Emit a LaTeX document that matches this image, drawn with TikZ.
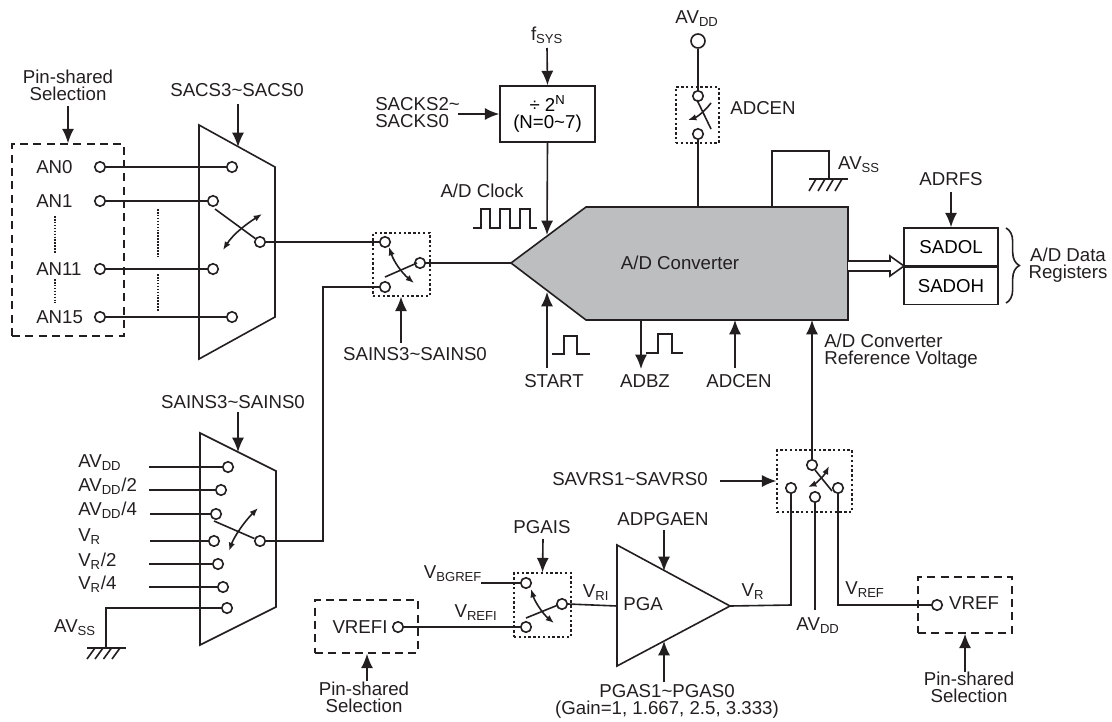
\documentclass[tikz,border=0pt]{standalone}
\usepackage{fontspec}
\setmainfont{Liberation Sans}
\usetikzlibrary{arrows.meta,decorations.pathreplacing}
\definecolor{adcGray}{HTML}{BDBEC0}
\definecolor{inkGray}{HTML}{231F20}
\newcommand{\lsub}[1]{\textsubscript{#1}}
\tikzset{
  font=\fontsize{14}{12.7}\selectfont,
  wire/.style={draw=inkGray, line width=1.2pt},
  arrow/.style={-{Latex[length=3.8mm,width=3.2mm]}, draw=inkGray, line width=1.2pt},
  swarrow/.style={{Latex[length=2.2mm,width=1.7mm]}-{Latex[length=2.2mm,width=1.7mm]}, draw=inkGray, line width=1.2pt},
  pin/.style={circle, draw=inkGray, line width=1.2pt, fill=white, minimum size=10.5*0.75pt, inner sep=0pt},
  bigpin/.style={pin, minimum size=14*0.75pt},
  sel/.style={rectangle, draw=inkGray, line width=1.2pt, dash pattern=on 6pt off 4pt},
  sw/.style={rectangle, draw=inkGray, line width=1pt, dash pattern=on 1.8pt off 1.8pt},
  regbox/.style={rectangle, draw=inkGray, line width=1.2pt, align=center, inner sep=0pt},
  lbl/.style={text=inkGray, align=center, inner sep=0pt},
  ground/.style={draw=inkGray, line width=1.2pt}
}

\begin{document}
\begin{tikzpicture}[x=0.75pt,y=-0.75pt]
\useasboundingbox (0,0) rectangle (1112,721);

% --------------------------------------------------------------------------
% AN input multiplexer
% --------------------------------------------------------------------------
\draw[wire] (199,125) -- (275,167) -- (275,317) -- (199,359) -- cycle;
\node[sel, minimum width=112*0.75pt, minimum height=192*0.75pt] (anBox) at (68,240) {};
\node[lbl] (anSel) at (68,85) {Pin-shared\\Selection};
\node[lbl] (sacs) at (237,90) {SACS3\textasciitilde SACS0};
\coordinate (anSelEnd) at (68,106);
\coordinate (sacsEnd) at (238,104);
\coordinate (sacsHit) at (238,147);
\draw[arrow] (anSelEnd) -- (anBox.north);
\draw[arrow] (sacsEnd) -- (sacsHit);

\node[lbl, anchor=west] at (36,167) (an0) {AN0};
\node[lbl, anchor=west] at (36,201) (an1) {AN1};
\node[lbl, anchor=west] at (36,269) (an11) {AN11};
\node[lbl, anchor=west] at (36,317) (an15) {AN15};
\node[pin] (inA) at (100,167) {};
\node[pin] (inB) at (100,201) {};
\node[pin] (inC) at (100,269) {};
\node[pin] (inD) at (100,317) {};
\node[pin] (muxA) at (232,167) {};
\node[pin] (muxB) at (213,201) {};
\node[pin] (muxC) at (213,269) {};
\node[pin] (muxD) at (232,317) {};
\node[pin] (muxOut) at (260,242) {};
\foreach \a/\b in {inA/muxA,inB/muxB,inC/muxC,inD/muxD}
  \draw[wire] (\a) -- (\b);
\draw[wire, densely dotted] (55,216) -- (55,253);
\draw[wire, densely dotted] (55,279) -- (55,303);
\draw[wire, densely dotted] (158,209) -- (158,257);
\draw[wire, densely dotted] (158,274) -- (158,312);
\draw[wire] (215,209) -- (muxOut);
\draw[swarrow] (223,250) .. controls (234,233) and (248,223) .. (262,214);

% --------------------------------------------------------------------------
% Input select switch
% --------------------------------------------------------------------------
\node[sw, minimum width=57*0.75pt, minimum height=63*0.75pt] (inSw) at (401.5,264.5) {};
\node[pin] (inSwA) at (385,242) {};
\node[pin] (inSwB) at (385,287) {};
\node[pin] (inSwOut) at (420,263) {};
\node[lbl] (sainsB) at (415,354) {SAINS3\textasciitilde SAINS0};
\coordinate (sainsBEnd) at (401,343);
\draw[arrow] (sainsBEnd) -- (inSw.south -| sainsBEnd);
\draw[wire] (muxOut) -- (inSwA);
\draw[wire] (385,277) -- (417,263);
\draw[swarrow] (389,247) .. controls (394,262) and (402,273) .. (414,283);

% --------------------------------------------------------------------------
% A/D converter
% --------------------------------------------------------------------------
\draw[wire, fill=adcGray] (511,263) -- (586,207) -- (848,207) -- (848,320) -- (586,320) -- cycle;
\coordinate (adcTip) at (511,263);
\node[lbl] (adc) at (680,263) {A/D Converter};
\draw[wire] (inSwOut) -- (adcTip);

\node[lbl] (fsys) at (547,35) {f\lsub{SYS}};
\node[regbox, minimum width=95*0.75pt, minimum height=56*0.75pt] (divider) at (547.5,114) {\rule{0pt}{11pt}÷ 2\textsuperscript{N}\\(N=0\textasciitilde 7)};
\node[lbl, align=left, anchor=west] (sacks) at (375,113) {SACKS2\textasciitilde\\SACKS0};
\coordinate (fsysEnd) at (547,48);
\coordinate (sacksEnd) at (458,114);
\coordinate (clkHit) at (547,235);
\draw[arrow] (fsysEnd) -- (divider.north);
\draw[arrow] (sacksEnd) -- (divider.west);
\draw[arrow] (divider.south) -- (clkHit);

\node[lbl] (clk) at (482,191) {A/D Clock};
\draw[wire] (473,228) -- (481,228) -- (481,209) -- (490,209) -- (490,228) -- (500,228) -- (500,209) -- (510,209) -- (510,228) -- (520,228) -- (520,209) -- (530,209) -- (530,228) -- (537,228);

\node[lbl] (start) at (554,381) {START};
\node[lbl] (adbz) at (645,381) {ADBZ};
\node[lbl] (adcenB) at (739,381) {ADCEN};
\coordinate (startEnd) at (547,368);
\coordinate (startHit) at (547,292);
\coordinate (adbzTop) at (641,320);
\coordinate (adbzEnd) at (641,369);
\coordinate (adcenEnd) at (735,368);
\coordinate (adcenHit) at (735,320);
\draw[arrow] (startEnd) -- (startHit);
\draw[arrow] (adbzTop) -- (adbzEnd);
\draw[arrow] (adcenEnd) -- (adcenHit);
\draw[wire] (552,354) -- (564,354) -- (564,336) -- (577,336) -- (577,354) -- (590,354);
\draw[wire] (646,353) -- (658,353) -- (658,334) -- (672,334) -- (672,353) -- (683,353);

% --------------------------------------------------------------------------
% Enable switch and ground
% --------------------------------------------------------------------------
\node[lbl] (avddTop) at (697,19) {AV\lsub{DD}};
\node[bigpin] (avddPin) at (698,41) {};
\node[sw, minimum width=43*0.75pt, minimum height=56*0.75pt] (enSw) at (697.5,115) {};
\node[pin] (enA) at (698,96) {};
\node[pin] (enB) at (698,134) {};
\node[lbl] (adcenT) at (763,108) {ADCEN};
\coordinate (enDrop) at (698,207);
\draw[wire] (avddPin) -- (enA);
\draw[wire] (enB) -- (enDrop);
\draw[wire] (697,100) -- (711,129);
\draw[-{Latex[length=2.2mm,width=1.7mm]}, wire] (711,103) .. controls (704,112) and (697,117) .. (688,120);

\coordinate (gndDrop) at (772,207);
\coordinate (gndCorner) at (772,151);
\coordinate (gndA) at (829,151);
\coordinate (gndB) at (829,179);
\node[lbl] (avss) at (859,165) {AV\lsub{SS}};
\draw[wire] (gndDrop) -- (gndCorner) -- (gndA) -- (gndB);
\draw[ground] (809,179) -- (848,179);
\foreach \x in {812.5,821.5,830,838.5}
  \draw[ground] (\x,179) ++(3.5,0) -- ++(-7,12);

% --------------------------------------------------------------------------
% Data registers
% --------------------------------------------------------------------------
\node[regbox, minimum width=94*0.75pt, minimum height=38*0.75pt] (sadol) at (951,247) {SADOL};
\node[regbox, minimum width=94*0.75pt, minimum height=37*0.75pt, anchor=north] (sadoh) at (sadol.south) {SADOH};
\node[lbl] (adrfs) at (951,179) {ADRFS};
\coordinate (adrfsEnd) at (951,192);
\draw[arrow] (adrfsEnd) -- (sadol.north);
\draw[wire, fill=white] (848,261) -- (890,261) -- (890,256) -- (904,266) -- (890,276) -- (890,271) -- (848,271);
\draw[wire, decorate, decoration={brace, amplitude=10pt}] (1006,228) -- (1006,303);
\node[lbl] (regsText) at (1068,265) {A/D Data\\Registers};

% --------------------------------------------------------------------------
% Reference voltage switch
% --------------------------------------------------------------------------
\node[sw, minimum width=75*0.75pt, minimum height=62*0.75pt] (refSw) at (814.5,481) {};
\node[pin] (refOut) at (812,465) {};
\node[pin] (refA) at (791,488) {};
\node[pin] (refB) at (815,497) {};
\node[pin] (refC) at (838,488) {};
\node[lbl] (savrs) at (630,479) {SAVRS1\textasciitilde SAVRS0};
\node[lbl, align=left, anchor=west] (refText) at (824,351) {A/D Converter\\Reference Voltage};
\coordinate (savrsEnd) at (720,481);
\coordinate (refHit) at (812,320);
\draw[arrow] (savrsEnd) -- (refSw.west |- savrsEnd);
\draw[arrow] (refOut) -- (refHit);
\draw[wire] (815,470) -- (832,491);
\draw[swarrow] (808,487) .. controls (815,484) and (824,476) .. (829,466);

\coordinate (vrDrop) at (791,605);
\coordinate (pgaTip) at (730,606);
\coordinate (avddDrop) at (815,610);
\coordinate (vrefDrop) at (838,605);
\node[lbl] (vrLabel) at (753,592) {V\lsub{R}};
\node[lbl] (avddB) at (818,626) {AV\lsub{DD}};
\node[lbl] (vrefLabel) at (865,590) {V\lsub{REF}};
\node[sel, minimum width=94*0.75pt, minimum height=56*0.75pt] (vrefBox) at (965,605) {};
\node[pin] (vrefPin) at (937,605) {};
\node[lbl] (vrefText) at (974,603) {VREF};
\node[lbl] (vrefSel) at (969,687) {Pin-shared\\Selection};
\coordinate (vrefSelEnd) at (965,672);
\draw[wire] (refA) -- (vrDrop) -- (pgaTip);
\draw[wire] (refB) -- (avddDrop);
\draw[wire] (refC) -- (vrefDrop) -- (vrefPin);
\draw[arrow] (vrefSelEnd) -- (vrefBox.south -| vrefSelEnd);

% --------------------------------------------------------------------------
% PGA
% --------------------------------------------------------------------------
\draw[wire] (617,545) -- (730,606) -- (617,666) -- cycle;
\coordinate (pgaIn) at (617,606);
\node[lbl] (pga) at (643,604) {PGA};
\node[lbl] (adpgaen) at (663,519) {ADPGAEN};
\node[lbl, align=center] (pgas) at (667,701) {PGAS1\textasciitilde PGAS0\\(Gain=1, 1.667, 2.5, 3.333)};
\coordinate (adpgaenEnd) at (664,530);
\coordinate (adpgaenHit) at (664,571);
\coordinate (pgasEnd) at (664,682);
\coordinate (pgasHit) at (664,641);
\draw[arrow] (adpgaenEnd) -- (adpgaenHit);
\draw[arrow] (pgasEnd) -- (pgasHit);

\node[sw, minimum width=57*0.75pt, minimum height=64*0.75pt] (pgaSw) at (542.5,605) {};
\node[pin] (pgaA) at (526,583) {};
\node[pin] (pgaB) at (526,627) {};
\node[pin] (pgaOut) at (562,604) {};
\node[lbl] (pgais) at (542,527) {PGAIS};
\coordinate (pgaisEnd) at (543,539);
\draw[arrow] (pgaisEnd) -- (pgaSw.north);
\draw[wire] (pgaOut.east) -- (pgaIn);
\draw[wire] (526,618) -- (558,605);
\draw[swarrow] (531,589) .. controls (535,602) and (543,614) .. (554,623);
\node[lbl] (vbg) at (453,574) {V\lsub{BGREF}};
\coordinate (vbgEnd) at (481,583);
\draw[wire] (vbgEnd) -- (pgaA);
\node[lbl] (vrefiLabel) at (476,613) {V\lsub{REFI}};
\node[lbl] (vriLabel) at (596,593) {V\lsub{RI}};
\node[sel, minimum width=103*0.75pt, minimum height=53*0.75pt] (vrefiBox) at (366.5,626.5) {};
\node[lbl] (vrefiText) at (360,627) {VREFI};
\node[pin] (vrefiPin) at (398,627) {};
\node[lbl] (vrefiSel) at (364,697) {Pin-shared\\Selection};
\coordinate (vrefiSelEnd) at (367,681);
\draw[wire] (vrefiPin) -- (pgaB);
\draw[arrow] (vrefiSelEnd) -- (vrefiBox.south -| vrefiSelEnd);

% --------------------------------------------------------------------------
% Internal source multiplexer
% --------------------------------------------------------------------------
\draw[wire] (200,433) -- (276,471) -- (276,607) -- (200,645) -- cycle;
\node[lbl] (sainsT) at (233,402) {SAINS3\textasciitilde SAINS0};
\coordinate (sainsTEnd) at (238,412);
\coordinate (sainsTHit) at (238,452);
\draw[arrow] (sainsTEnd) -- (sainsTHit);
\node[pin] (srcOut) at (260,541) {};
\coordinate (srcCorner) at (323,541);
\coordinate (inSwCorner) at (323,287);
\draw[wire] (srcOut) -- (srcCorner) -- (inSwCorner) -- (inSwB);
\draw[wire] (214,521) -- (srcOut);
\draw[swarrow] (229,551) .. controls (234,537) and (244,522) .. (258,508);

\node[lbl, anchor=west] (srcA) at (78,463) {AV\lsub{DD}};
\node[lbl, anchor=west] (srcB) at (78,486) {AV\lsub{DD}/2};
\node[lbl, anchor=west] (srcC) at (78,510) {AV\lsub{DD}/4};
\node[lbl, anchor=west] (srcD) at (78,537) {V\lsub{R}};
\node[lbl, anchor=west] (srcE) at (78,561) {V\lsub{R}/2};
\node[lbl, anchor=west] (srcF) at (78,584) {V\lsub{R}/4};
\node[pin] (pinA) at (228,467) {};
\node[pin] (pinB) at (221,490) {};
\node[pin] (pinC) at (216,514) {};
\node[pin] (pinD) at (214,541) {};
\node[pin] (pinE) at (218,564) {};
\node[pin] (pinF) at (223,587) {};
\node[pin] (pinG) at (227,608) {};
\coordinate (srcAEnd) at (149,467);
\coordinate (srcBEnd) at (149,490);
\coordinate (srcCEnd) at (150,514);
\coordinate (srcDEnd) at (150,541);
\coordinate (srcEEnd) at (149,564);
\coordinate (srcFEnd) at (149,587);
\foreach \a/\b in {srcAEnd/pinA,srcBEnd/pinB,srcCEnd/pinC,srcDEnd/pinD,srcEEnd/pinE,srcFEnd/pinF}
  \draw[wire] (\a) -- (\b);
\node[lbl] (avssL) at (75,628) {AV\lsub{SS}};
\coordinate (srcGnd) at (106,648);
\coordinate (srcGndCorner) at (106,608);
\draw[wire] (pinG) -- (srcGndCorner) -- (srcGnd);
\draw[ground] (87,648) -- (126,648);
\foreach \x in {91,99,107.5,116}
  \draw[ground] (\x,648) ++(4,0) -- ++(-8,11);

\end{tikzpicture}
\end{document}
